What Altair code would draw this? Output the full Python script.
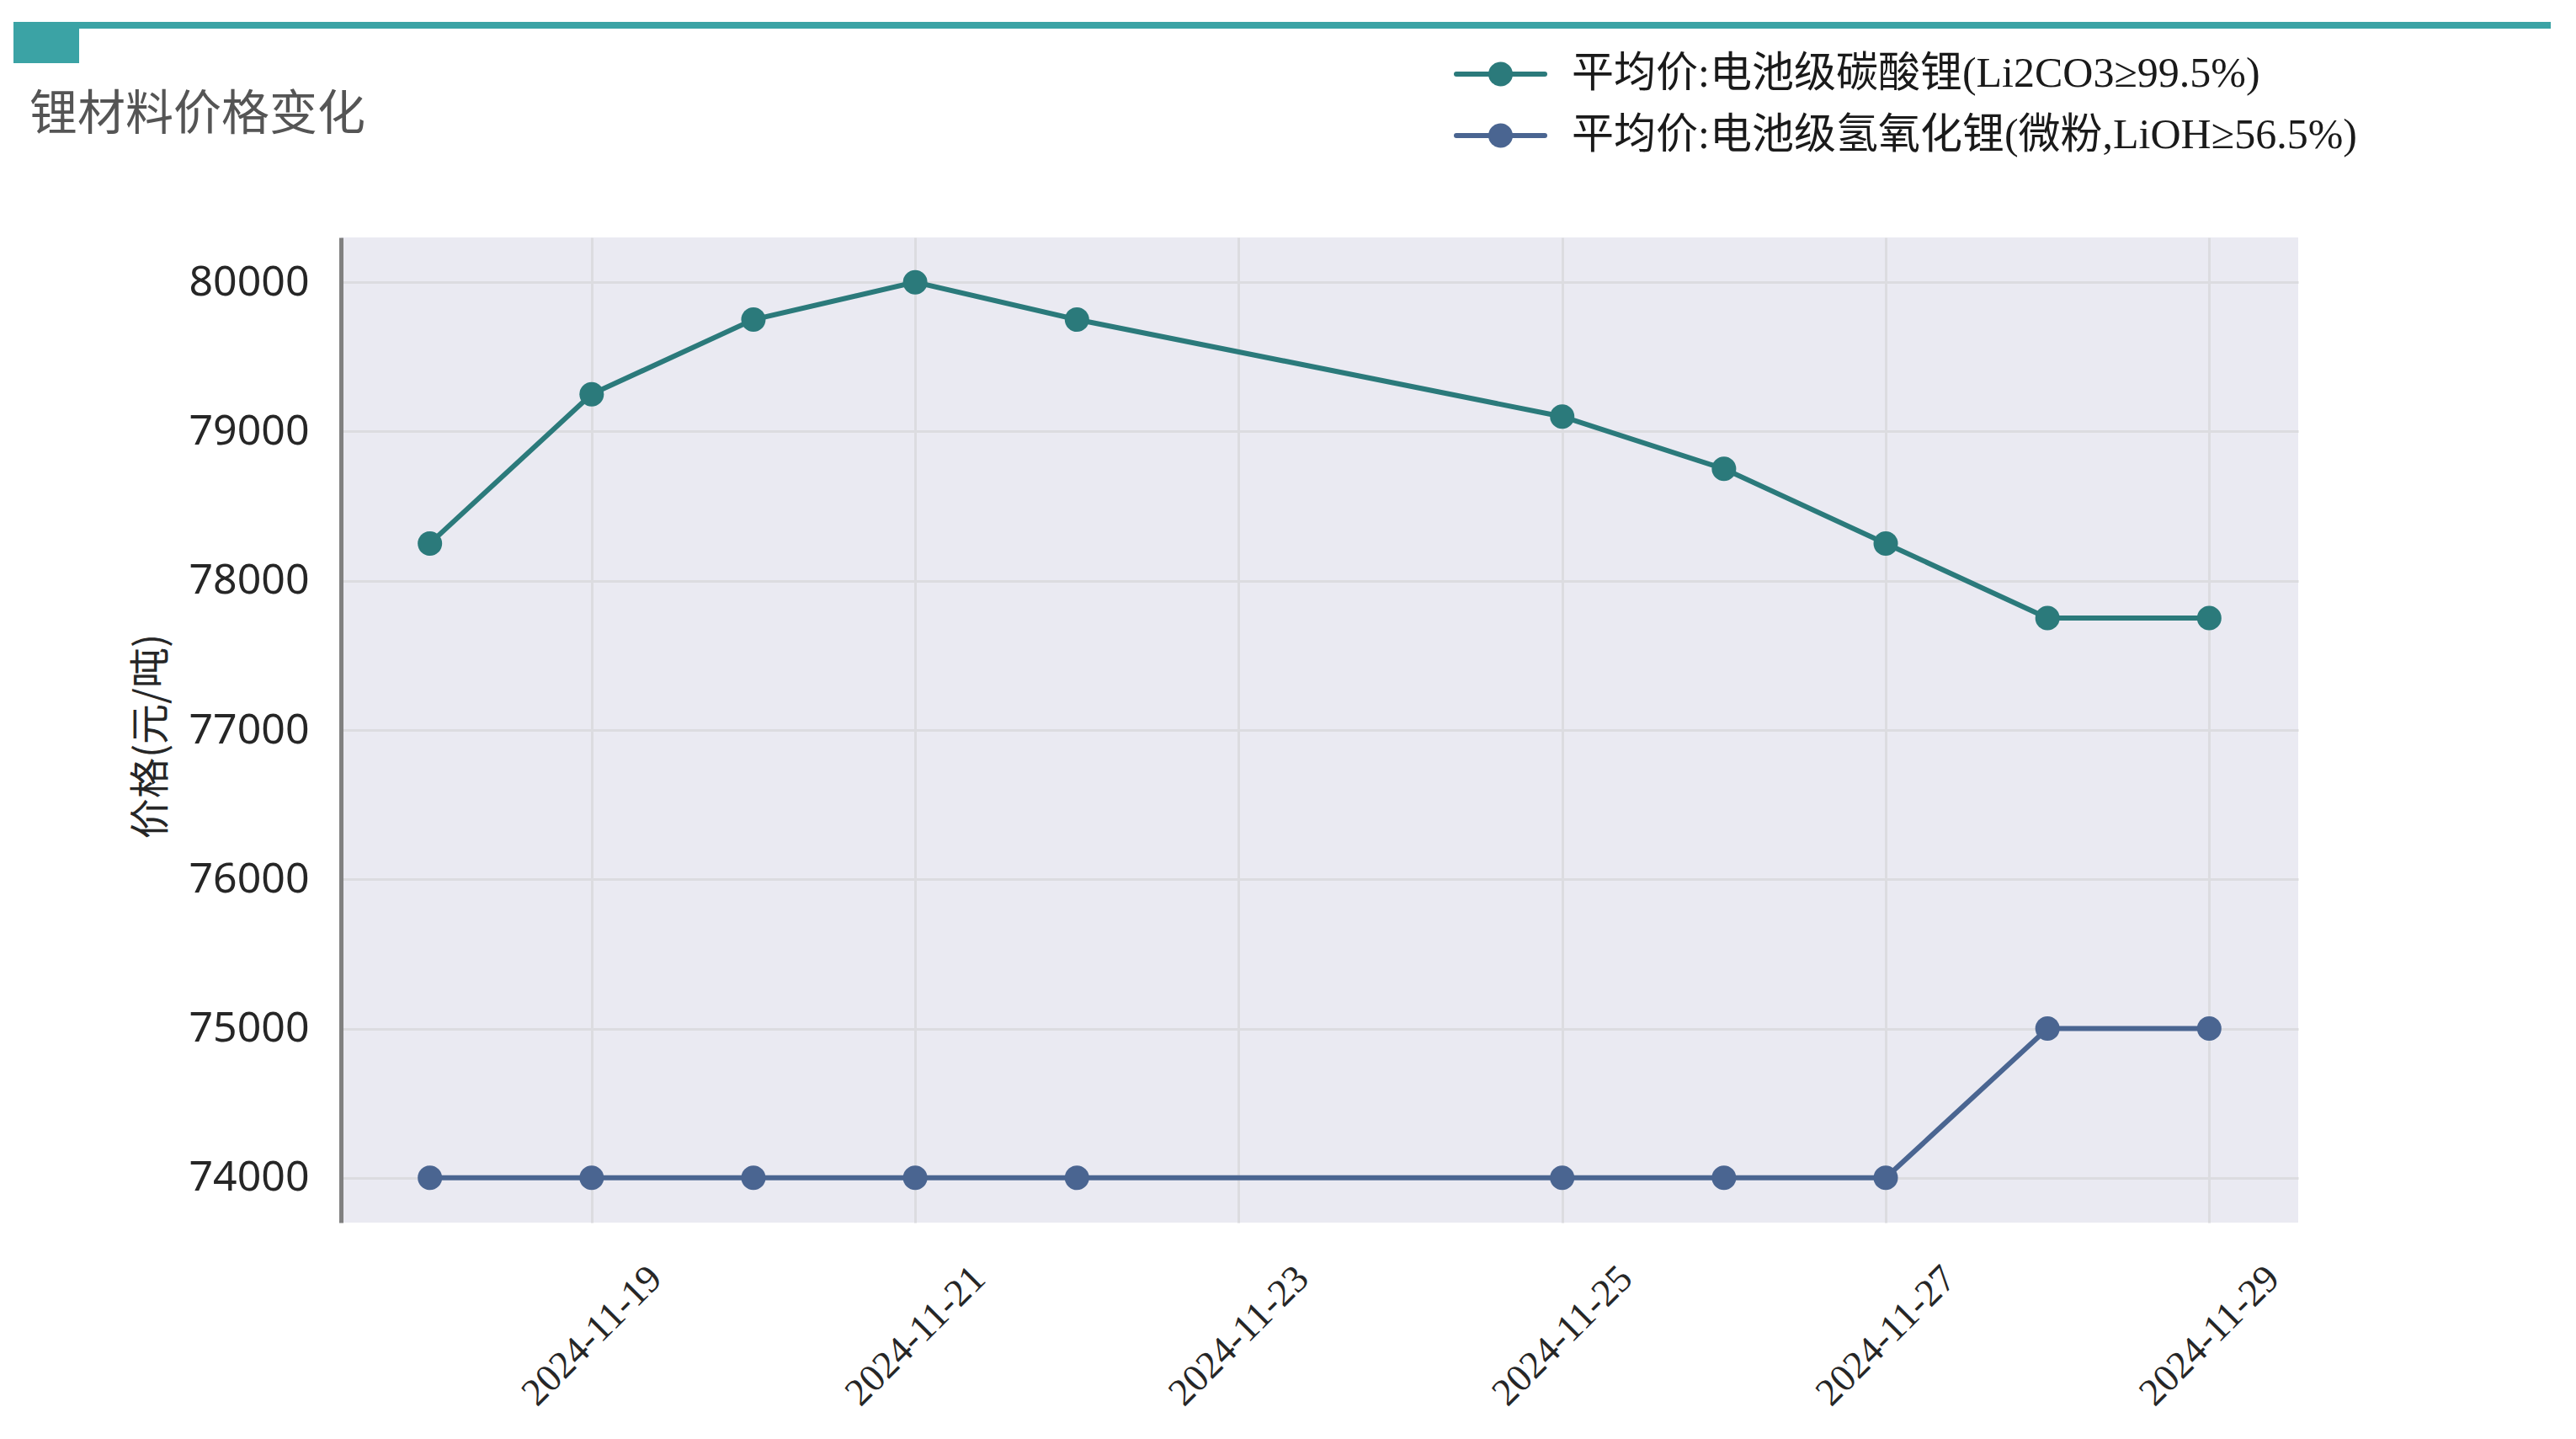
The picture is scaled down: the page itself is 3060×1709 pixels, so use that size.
import altair as alt
import pandas as pd

# ---- data ----
dates = ["2024-11-18", "2024-11-19", "2024-11-20", "2024-11-21", "2024-11-22",
         "2024-11-25", "2024-11-26", "2024-11-27", "2024-11-28", "2024-11-29"]
li2co3 = [78250, 79250, 79750, 80000, 79750, 79100, 78750, 78250, 77750, 77750]
lioh = [74000, 74000, 74000, 74000, 74000, 74000, 74000, 74000, 75000, 75000]
series_names = ["平均价:电池级碳酸锂(Li2CO3≥99.5%)", "平均价:电池级氢氧化锂(微粉,LiOH≥56.5%)"]
series_colors = ["#2B7A7B", "#4A6591"]
y_ticks = [74000, 75000, 76000, 77000, 78000, 79000, 80000]
x_tick_days = [19, 21, 23, 25, 27, 29]
title_text = ["锂材料价格变化"]
y_title = "价格(元/吨)"

rows = []
for d, v in zip(dates, li2co3):
    rows.append({"date": d, "value": v, "series": series_names[0]})
for d, v in zip(dates, lioh):
    rows.append({"date": d, "value": v, "series": series_names[1]})
df = pd.DataFrame(rows)
legend_df = pd.DataFrame({"series": series_names})

W, H = 2325, 1170

x_enc = alt.X(
    "date:T",
    scale=alt.Scale(
        type="utc",
        domain=[alt.DateTime(year=2024, month=11, date=17, hours=10, minutes=48, utc=True),
                alt.DateTime(year=2024, month=11, date=29, hours=13, minutes=12, utc=True)],
        nice=False,
    ),
    axis=alt.Axis(
        values=[alt.DateTime(year=2024, month=11, date=d, utc=True) for d in x_tick_days],
        labelExpr="utcFormat(datum.value, '%Y-%m-%d')", title=None,
        labelAngle=315, labelAlign="center", labelBaseline="middle",
        labelPadding=134, ticks=False, tickSize=0, domain=False,
        labelFont="Liberation Serif", labelFontSize=46, labelColor="#262626", labelLimit=1000,
        labelOverlap=False, labelFlush=False, labelBound=False,
        grid=True, gridColor="#DCDCE0", gridWidth=3,
    ),
)
y_enc = alt.Y(
    "value:Q",
    scale=alt.Scale(domain=[73700, 80300], zero=False, nice=False),
    axis=alt.Axis(
        values=y_ticks, format="d", title=y_title,
        titleX=-225, titleY=592, titleAngle=270, titleAlign="center", titleBaseline="middle",
        titleFont="Noto Sans CJK SC", titleFontSize=48, titleFontWeight="normal", titleColor="#262626",
        labelFont="Noto Sans", labelFontSize=50, labelColor="#262626", labelPadding=38,
        ticks=False, tickSize=0, domainColor="#808080", domainWidth=5,
        grid=True, gridColor="#DCDCE0", gridWidth=3,
    ),
)

color_scale = alt.Scale(domain=series_names, range=series_colors)
color_enc = alt.Color("series:N", scale=color_scale, legend=None)
base = alt.Chart(df)

lines = base.mark_line(strokeWidth=6).encode(x=x_enc, y=y_enc, color=color_enc)
points = base.mark_point(filled=True, size=841, opacity=1, strokeWidth=0).encode(
    x=x_enc, y=y_enc, color=color_enc
)

# ---- legend (drawn above the plot, rows placed by a point scale) ----
leg_y = alt.Y("series:N", scale=alt.Scale(type="point", domain=series_names, range=[-194, -121], padding=0),
              axis=None)
leg_base = alt.Chart(legend_df)
leg_line = leg_base.mark_rule(strokeWidth=6, strokeCap="round").encode(
    x=alt.value(1325), x2=alt.value(1430), y=leg_y, color=color_enc
)
leg_pt = leg_base.mark_point(filled=True, size=841, opacity=1, strokeWidth=0).encode(
    x=alt.value(1377.5), y=leg_y, color=color_enc
)
leg_txt = leg_base.mark_text(
    align="left", baseline="middle", font="Liberation Serif, Noto Sans CJK SC", fontSize=50, color="#1a1a1a"
).encode(x=alt.value(1462), y=leg_y, text="series:N")

# ---- header decoration and title ----
deco_df = pd.DataFrame({"t": title_text})
deco_rect = alt.Chart(deco_df).mark_rect(color="#3BA3A5").encode(
    x=alt.value(-389), x2=alt.value(-311), y=alt.value(-256), y2=alt.value(-207)
)
deco_line = alt.Chart(deco_df).mark_rule(color="#3BA3A5", strokeWidth=8, strokeCap="round").encode(
    x=alt.value(-385), x2=alt.value(2641), y=alt.value(-252)
)
title = alt.Chart(deco_df).mark_text(
    align="left", baseline="middle", font="Noto Sans CJK SC", fontSize=57, color="#555555"
).encode(x=alt.value(-370), y=alt.value(-145), text="t:N")

main = alt.layer(lines, points)
legend = alt.layer(leg_line, leg_pt, leg_txt)

chart = alt.layer(deco_rect, deco_line, title, main, legend).resolve_scale(y="independent").properties(
    width=W, height=H,
    autosize=alt.AutoSizeParams(type="none"),
    padding={"left": 397, "top": 274, "right": 300, "bottom": 230},
    background="white",
).configure_view(stroke=None, fill="#EAEAF2")

chart.save("out.html", embed_options={"renderer": "svg", "actions": False})
